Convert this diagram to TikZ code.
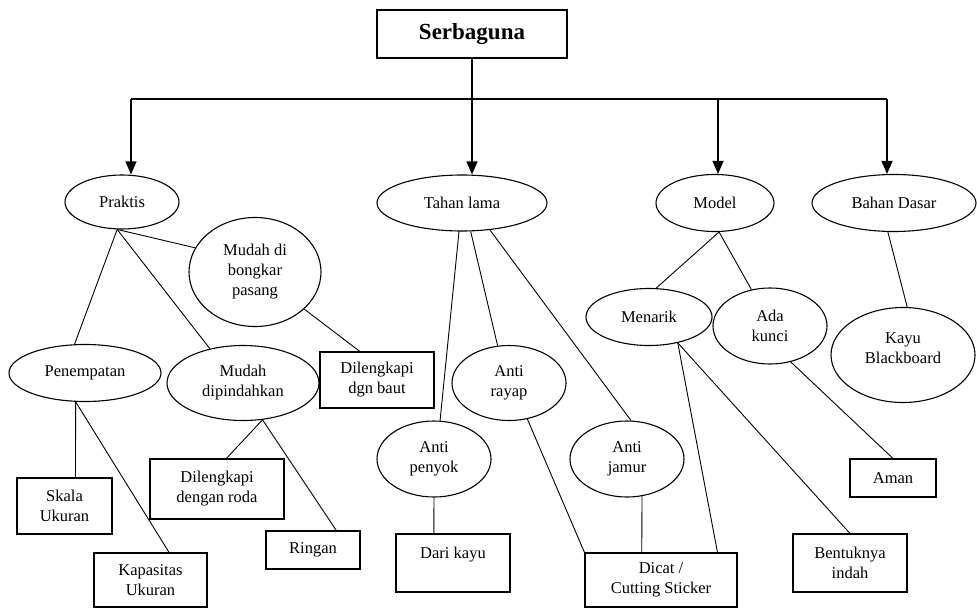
\documentclass[tikz,border=0pt]{standalone}
\usepackage{fontspec}
\setmainfont{Liberation Serif}
\usetikzlibrary{shapes.geometric,arrows.meta}
\begin{document}
\begin{tikzpicture}[x=1pt,y=-1pt,
  every node/.style={font=\fontsize{16.5}{20}\selectfont, align=center, inner sep=0pt, line width=1.1pt},
  ell/.style 2 args={draw,ellipse,minimum width=#1pt,minimum height=#2pt},
  box/.style 2 args={draw,rectangle,minimum width=#1pt,minimum height=#2pt},
  conn/.style={line width=0.9pt},
  arr/.style={line width=1.3pt,-{Triangle[length=13pt,width=11pt]}}]
\useasboundingbox (0,0) rectangle (977,610);
% top
\node[box={190}{48}, line width=1.5pt, font=\fontsize{23}{27}\selectfont\bfseries] (serb) at (472,34) {Serbaguna};
% level 1
\node[ell={114}{54}] (prak) at (122,202) {Praktis};
\node[ell={170}{56}] (tahan) at (462,203) {Tahan lama};
\node[ell={118}{57}] (model) at (715,203) {Model};
\node[ell={164}{57}] (bahan) at (894,203) {Bahan Dasar};
% Praktis branch
\node[ell={132}{109}] (mdb) at (255,272) {Mudah di\\bongkar\\pasang};
\node[ell={152}{57}] (pen) at (85,373) {Penempatan};
\node[ell={152}{75}] (mdp) at (243,383) {Mudah\\dipindahkan};
\node[box={114}{56}] (baut) at (377,380) {Dilengkapi\\dgn baut};
\node[box={95}{56}] (skala) at (64.5,506) {Skala\\Ukuran};
\node[box={113}{54}] (kap) at (150.5,580) {Kapasitas\\Ukuran};
\node[box={134}{60}] (roda) at (217,489) {Dilengkapi\\dengan roda};
\node[box={94}{38}] (ringan) at (313,550) {Ringan};
% Tahan lama branch
\node[ell={114}{76}] (penyok) at (434,459) {Anti\\penyok};
\node[ell={114}{75}] (rayap) at (509,383) {Anti\\rayap};
\node[ell={114}{76}] (jamur) at (627,459) {Anti\\jamur};
\node[box={114}{58}] (dari) at (453,563) {Dari kayu\\\mbox{}};
\node[box={152}{54}] (dicat) at (661,580) {Dicat /\\Cutting Sticker};
% Model branch
\node[ell={126}{57}] (menarik) at (649,317) {Menarik};
\node[ell={114}{76}] (kunci) at (770,326) {Ada\\kunci};
\node[box={86}{38}] (aman) at (893,478) {Aman};
\node[box={114}{58}] (bentuk) at (850,563) {Bentuknya\\indah};
% Bahan Dasar branch
\node[ell={144}{95}] (kayu) at (903,355) {Kayu\\Blackboard\\[-6pt]\mbox{}};
% arrows from top
\coordinate (hl) at (131,99);
\coordinate (hm) at (718,99);
\coordinate (hr) at (887,99);
\draw[line width=1.3pt] (hl) -- (hr);
\draw[arr] (serb.south) -- (serb.south |- tahan.north);
\draw[arr] (hl) -- (hl |- prak.north);
\draw[arr] (hm) -- (hm |- model.north);
\draw[arr] (hr) -- (hr |- bahan.north);
% connectors
\draw[conn] (prak.-100) -- (mdb.158);
\draw[conn] (prak.-100) -- (pen.110);
\draw[conn] (prak.-100) -- (mdp.134);
\draw[conn] (mdb.-37) -- (baut.121);
\draw[conn] (pen.-108) -- (skala.69);
\draw[conn] (pen.-108) -- (kap.56);
\draw[conn] (mdp.-62) -- (roda.73);
\draw[conn] (mdp.-62) -- (ringan.40);
\draw[conn] (tahan.-96) -- (penyok.81);
\draw[conn] (tahan.-73) -- (rayap.107);
\draw[conn] (tahan.-44) -- (jamur.84);
\draw[conn] (penyok.south) -- (dari.123);
\draw[conn] (rayap.-63) -- (dicat.north west);
\draw[conn] (jamur.-68) -- (dicat.125);
\draw[conn] (model.-82) -- (menarik.76);
\draw[conn] (model.-82) -- (kunci.117);
\draw[conn] (menarik.-42) -- (dicat.26);
\draw[conn] (menarik.-42) -- (bentuk.north);
\draw[conn] (kunci.-60) -- (aman.north);
\draw[conn] (bahan.-102) -- (kayu.85);
\end{tikzpicture}
\end{document}
